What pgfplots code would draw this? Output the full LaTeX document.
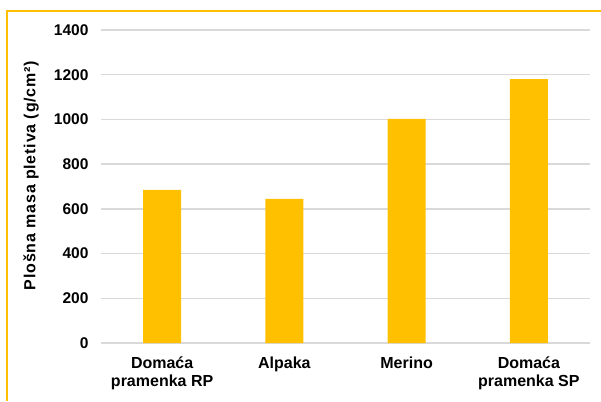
\documentclass[border=0pt]{standalone}
\usepackage{fontspec}
\setmainfont{Liberation Sans}
\usepackage{pgfplots}
\pgfplotsset{compat=1.18}
\definecolor{barC}{HTML}{FFC000}
\definecolor{gridC}{HTML}{D9D9D9}
\begin{document}
\begin{tikzpicture}[x=1pt,y=1pt]
\path[use as bounding box] (0,0) rectangle (601,401);
\draw[barC, line width=1.6pt] (7,0) -- (7,390) -- (601,390);
\begin{axis}[
  at={(101pt,58pt)}, anchor=south west,
  scale only axis, width=489pt, height=313pt,
  xmin=-0.5, xmax=3.5, ymin=0, ymax=1400,
  axis line style={draw=none},
  ymajorgrids, grid style={gridC, line width=1.3pt},
  major tick length=0, tick style={draw=none},
  ytick={0,200,...,1400},
  xtick=data,
  xticklabels={{Domaća\\pramenka RP}, Alpaka, Merino, {Domaća\\pramenka SP}},
  /pgf/number format/assume math mode=true,
  /pgf/number format/1000 sep={},
  yticklabel style={font=\fontsize{15.5}{18}\selectfont\bfseries, xshift=-9pt},
  xticklabel style={align=center, font=\fontsize{16}{18.5}\selectfont\bfseries, yshift=-10pt},
  ylabel={Plošna masa pletiva (g/cm²)},
  ylabel style={at={(axis description cs:-0.143,0.535)}, anchor=center,
    font=\addfontfeature{LetterSpace=5}\fontsize{16}{18}\selectfont\bfseries},
]
\addplot[ybar, fill=barC, draw=none, bar width=38pt] coordinates {(0,685) (1,645) (2,1002) (3,1180)};
\end{axis}
\end{tikzpicture}
\end{document}
